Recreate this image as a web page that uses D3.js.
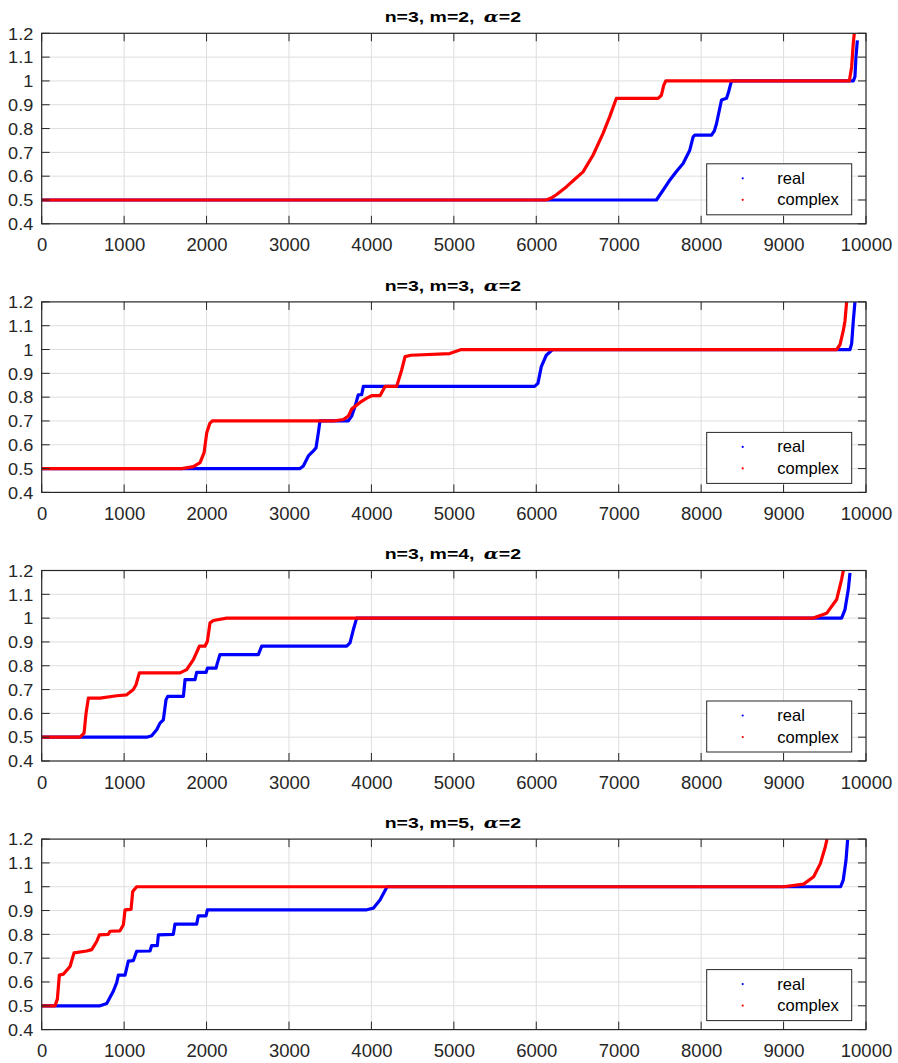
<!DOCTYPE html>
<html>
<head>
<meta charset="utf-8">
<script src="https://cdn.jsdelivr.net/npm/d3@7"></script>
<style>
  body { margin: 0; background: #fff; }
  svg { font-family: Arial, "Liberation Sans", Helvetica, sans-serif; }
</style>
</head>
<body>
<div id="my_dataviz"></div>
<script>
// values: [sample index, value]
const mValues = [2, 3, 4, 5];
const xTicks = [0, 1000, 2000, 3000, 4000, 5000, 6000, 7000, 8000, 9000, 10000];
const yTicks = [0.4, 0.5, 0.6, 0.7, 0.8, 0.9, 1, 1.1, 1.2];
const seriesNames = ["real", "complex"];

const realM2 = [[0,0.5],[7457,0.5],[7538,0.541],[7619,0.583],[7700,0.62],[7781,0.653],[7862,0.709],[7903,0.765],[7923,0.772],[8126,0.772],[8160,0.79],[8186,0.82],[8247,0.92],[8308,0.927],[8330,0.95],[8360,0.99],[8372,1.0],[9846,1.0],[9866,1.018],[9878,1.10],[9895,1.17]];
const complexM2 = [[0,0.5],[6121,0.5],[6180,0.508],[6243,0.522],[6364,0.555],[6460,0.585],[6567,0.618],[6688,0.688],[6810,0.78],[6891,0.85],[6972,0.927],[7478,0.927],[7518,0.94],[7545,0.98],[7571,1.0],[9798,1.0],[9826,1.06],[9846,1.16],[9858,1.2]];

const realM3 = [[0,0.5],[3134,0.5],[3174,0.511],[3235,0.553],[3296,0.574],[3328,0.588],[3356,0.65],[3376,0.7],[3720,0.7],[3760,0.72],[3801,0.761],[3841,0.81],[3882,0.81],[3902,0.845],[5980,0.845],[6020,0.858],[6061,0.928],[6121,0.976],[6182,0.995],[6200,1.0],[9806,1.0],[9826,1.025],[9846,1.12],[9866,1.2]];
const complexM3 = [[0,0.5],[1700,0.5],[1840,0.508],[1921,0.525],[1970,0.567],[2002,0.65],[2040,0.69],[2070,0.7],[3538,0.7],[3660,0.706],[3720,0.72],[3760,0.75],[3862,0.778],[3943,0.796],[4003,0.806],[4104,0.806],[4165,0.845],[4306,0.845],[4367,0.914],[4408,0.97],[4480,0.976],[4950,0.983],[5089,1.0],[9644,1.0],[9684,1.02],[9725,1.08],[9745,1.12],[9765,1.2]];

const realM4 = [[0,0.5],[1274,0.5],[1334,0.506],[1395,0.531],[1435,0.559],[1476,0.573],[1508,0.657],[1529,0.671],[1719,0.671],[1739,0.742],[1860,0.742],[1880,0.772],[1994,0.772],[2010,0.79],[2115,0.79],[2130,0.81],[2163,0.847],[2628,0.847],[2669,0.882],[3700,0.882],[3740,0.896],[3781,0.952],[3821,1.0],[9704,1.0],[9745,1.036],[9785,1.12],[9806,1.19]];
const complexM4 = [[0,0.5],[465,0.5],[514,0.517],[538,0.6],[566,0.664],[708,0.664],[910,0.674],[1031,0.678],[1112,0.7],[1144,0.72],[1185,0.77],[1678,0.77],[1759,0.784],[1840,0.826],[1913,0.882],[1981,0.882],[2010,0.903],[2042,0.98],[2083,0.99],[2244,1.0],[9360,1.0],[9522,1.02],[9644,1.078],[9704,1.163],[9725,1.2]];

const realM5 = [[0,0.5],[708,0.5],[789,0.51],[870,0.5625],[910,0.597],[930,0.629],[1011,0.629],[1051,0.6875],[1112,0.69],[1152,0.729],[1314,0.73],[1334,0.753],[1403,0.753],[1415,0.798],[1597,0.8],[1617,0.843],[1880,0.843],[1900,0.878],[1994,0.878],[2010,0.903],[3943,0.903],[4023,0.91],[4104,0.944],[4185,0.997],[4200,1.0],[9692,1.0],[9724,1.028],[9757,1.11],[9777,1.197]];
const complexM5 = [[0,0.5],[162,0.5],[190,0.528],[214,0.629],[263,0.633],[344,0.665],[392,0.722],[546,0.73],[607,0.736],[667,0.77],[700,0.798],[809,0.8],[829,0.813],[950,0.815],[991,0.84],[1011,0.903],[1084,0.905],[1104,0.98],[1152,1.0],[9000,1.0],[9243,1.011],[9365,1.042],[9446,1.097],[9506,1.167],[9527,1.2]];

const realSeries = [realM2, realM3, realM4, realM5];
const complexSeries = [complexM2, complexM3, complexM4, complexM5];

loadVisualizations = () => {
  var width = 898,
    height = 1063;
  var left = 41.7,
    right = 866,
    plotH = 190.5,
    firstTop = 33.3,
    step = 268.6;

  var axisColor = "#262626";
  var gridColor = "#dedede";
  var colors = ["#0000ff", "#ff0000"];

  let svg = d3
    .select("#my_dataviz")
    .append("svg")
    .attr("width", width)
    .attr("height", height);

  let x = d3.scaleLinear().domain([0, 10000]).range([left, right]);

  mValues.forEach(function (m, i) {
    var top = firstTop + i * step;
    var bottom = top + plotH;

    let y = d3.scaleLinear().domain([0.4, 1.2]).range([bottom, top]);
    let g = svg.append("g");

    // grid
    g.append("g")
      .selectAll("line")
      .data(xTicks.slice(1, -1))
      .join("line")
      .attr("x1", (d) => x(d))
      .attr("x2", (d) => x(d))
      .attr("y1", top)
      .attr("y2", bottom)
      .style("stroke", gridColor)
      .style("stroke-width", 1);

    g.append("g")
      .selectAll("line")
      .data(yTicks.slice(1, -1))
      .join("line")
      .attr("x1", left)
      .attr("x2", right)
      .attr("y1", (d) => y(d))
      .attr("y2", (d) => y(d))
      .style("stroke", gridColor)
      .style("stroke-width", 1);

    // data
    var clipId = "clip" + i;
    g.append("clipPath")
      .attr("id", clipId)
      .append("rect")
      .attr("x", left)
      .attr("y", top)
      .attr("width", right - left)
      .attr("height", plotH);

    let line = d3
      .line()
      .x((d) => x(d[0]))
      .y((d) => y(d[1]));

    [realSeries[i], complexSeries[i]].forEach(function (s, k) {
      g.append("path")
        .datum(s)
        .attr("d", line)
        .attr("clip-path", "url(#" + clipId + ")")
        .style("fill", "none")
        .style("stroke", colors[k])
        .style("stroke-width", 3.2)
        .style("stroke-linejoin", "round");
    });

    // axes
    let xAxis = g
      .append("g")
      .attr("transform", "translate(0," + bottom + ")")
      .call(d3.axisBottom(x).tickValues(xTicks).tickSize(0).tickPadding(0).tickFormat(d3.format("d")));
    xAxis.select(".domain").remove();
    xAxis
      .selectAll("text")
      .attr("y", 27.5)
      .attr("dy", 0)
      .style("font-size", "18.5px")
      .style("fill", axisColor);

    let yAxis = g
      .append("g")
      .attr("transform", "translate(" + left + ",0)")
      .call(d3.axisLeft(y).tickValues(yTicks).tickSize(0).tickPadding(0).tickFormat(d3.format("~g")));
    yAxis.select(".domain").remove();
    yAxis
      .selectAll("text")
      .attr("x", -7.5)
      .attr("dy", "0.36em")
      .attr("transform", "scale(1.13,1)")
      .style("font-size", "16px")
      .style("fill", axisColor);

    // inward ticks on all four sides
    var tl = 8;
    let ticks = g.append("g").style("stroke", axisColor).style("stroke-width", 1);
    xTicks.forEach(function (t) {
      ticks.append("line").attr("x1", x(t)).attr("x2", x(t)).attr("y1", bottom).attr("y2", bottom - tl);
      ticks.append("line").attr("x1", x(t)).attr("x2", x(t)).attr("y1", top).attr("y2", top + tl);
    });
    yTicks.forEach(function (t) {
      ticks.append("line").attr("x1", left).attr("x2", left + tl).attr("y1", y(t)).attr("y2", y(t));
      ticks.append("line").attr("x1", right).attr("x2", right - tl).attr("y1", y(t)).attr("y2", y(t));
    });

    g.append("rect")
      .attr("x", left)
      .attr("y", top)
      .attr("width", right - left)
      .attr("height", plotH)
      .style("fill", "none")
      .style("stroke", axisColor)
      .style("stroke-width", 1.2);

    // title
    var cx = (left + right) / 2 - 1;
    let title = g
      .append("text")
      .attr("transform", "translate(" + cx + "," + (top - 11.3) + ") scale(1.3,1)")
      .attr("text-anchor", "middle")
      .style("font-size", "15px")
      .style("font-weight", "bold")
      .style("fill", "#000");
    title.append("tspan").text("n=3, m=" + m + ", ");
    title.append("tspan").attr("dx", 3).style("font-family", "'DejaVu Serif', serif").style("font-style", "italic").text("α");
    title.append("tspan").text("=2");

    // legend
    var lx = right - 159.3,
      ly = bottom - 60,
      lw = 145,
      lh = 51;
    let legend = g.append("g");
    legend
      .append("rect")
      .attr("x", lx)
      .attr("y", ly)
      .attr("width", lw)
      .attr("height", lh)
      .style("fill", "#fff")
      .style("stroke", axisColor)
      .style("stroke-width", 1);

    seriesNames.forEach(function (name, k) {
      legend
        .append("circle")
        .attr("cx", lx + 36)
        .attr("cy", ly + 14.5 + k * 21.5)
        .attr("r", 1.1)
        .style("fill", colors[k]);
      legend
        .append("text")
        .attr("x", lx + 70.6)
        .attr("y", ly + 20 + k * 21.5)
        .style("font-size", "16.5px")
        .style("fill", "#000")
        .text(name);
    });
  });
};

window.onload = () => {
  loadVisualizations();
};
</script>
</body>
</html>
